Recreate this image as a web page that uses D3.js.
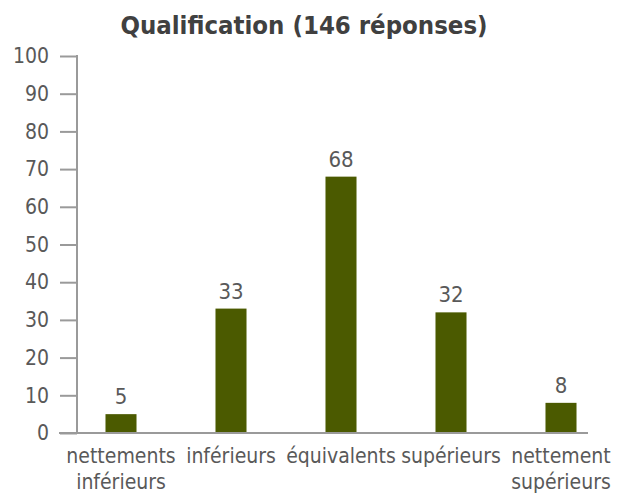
<!DOCTYPE html>
<html>
<head>
<meta charset="utf-8">
<script src="https://cdn.jsdelivr.net/npm/d3@7"></script>
<style>
  body { margin: 0; background: #fff; }
  svg text { font-family: "DejaVu Sans Condensed", "DejaVu Sans", sans-serif; fill: #595959; }
</style>
</head>
<body>
<div id="chart"></div>
<script>
var title = 'Qualification (146 réponses)'
var categories = [['nettements', 'inférieurs'], ['inférieurs'], ['équivalents'], ['supérieurs'], ['nettement', 'supérieurs']]
var values = [5, 33, 68, 32, 8]
var yTicks = [0, 10, 20, 30, 40, 50, 60, 70, 80, 90, 100]

var width = 625
var height = 497

var svg = d3.select('#chart')
  .append('svg')
  .attr('width', width)
  .attr('height', height)

var keys = categories.map(d => d.join(' '))

var xPositionScale = d3.scaleBand()
  .domain(keys)
  .range([66, 616])
  .paddingInner(0.718)
  .paddingOuter(0.359)

var yPositionScale = d3.scaleLinear().domain([0, 100]).range([433, 56])

var axisColor = '#9a9a9a'

// title
svg.append('text')
  .attr('x', 304)
  .attr('y', 34)
  .attr('text-anchor', 'middle')
  .attr('font-size', 25.5)
  .attr('font-weight', 'bold')
  .style('fill', '#404040')
  .text(title)

// y axis
var yAxis = d3.axisLeft(yPositionScale)
  .tickValues(yTicks)
  .tickSize(17)
  .tickPadding(11)
svg.append('g')
  .attr('class', 'axis axis-y')
  .attr('transform', 'translate(77,0)')
  .call(yAxis)
  .call(g => g.select('.domain').remove())
  .call(g => g.selectAll('line').attr('stroke', axisColor).attr('stroke-width', 2))
  .call(g => g.selectAll('text').attr('font-size', 21).attr('font-family', null).style('fill', '#595959'))

svg.append('line')
  .attr('x1', 77).attr('x2', 77)
  .attr('y1', yPositionScale(100) - 1).attr('y2', yPositionScale(0))
  .attr('stroke', axisColor)
  .attr('stroke-width', 2)

// bars
svg.append('g')
  .selectAll('.bar')
  .data(values)
  .enter().append('rect')
  .attr('class', 'bar')
  .attr('x', (d, i) => xPositionScale(keys[i]))
  .attr('y', d => yPositionScale(d))
  .attr('width', xPositionScale.bandwidth())
  .attr('height', d => yPositionScale(0) - yPositionScale(d))
  .attr('fill', '#4b5a00')

// x axis line
svg.append('line')
  .attr('x1', 59).attr('x2', 588)
  .attr('y1', yPositionScale(0)).attr('y2', yPositionScale(0))
  .attr('stroke', axisColor)
  .attr('stroke-width', 2)

// value labels
svg.append('g')
  .selectAll('text')
  .data(values)
  .enter().append('text')
  .attr('x', (d, i) => xPositionScale(keys[i]) + xPositionScale.bandwidth() / 2)
  .attr('y', d => yPositionScale(d) - 10)
  .attr('text-anchor', 'middle')
  .attr('font-size', 22)
  .text(d => d)

// category labels
var cats = svg.append('g')
  .selectAll('text')
  .data(categories)
  .enter().append('text')
  .attr('x', (d, i) => xPositionScale(keys[i]) + xPositionScale.bandwidth() / 2)
  .attr('y', 463)
  .attr('text-anchor', 'middle')
  .attr('font-size', 21)

cats.selectAll('tspan')
  .data(d => d)
  .enter().append('tspan')
  .attr('x', function() { return d3.select(this.parentNode).attr('x') })
  .attr('dy', (d, i) => i === 0 ? 0 : 26)
  .text(d => d)
</script>
</body>
</html>
